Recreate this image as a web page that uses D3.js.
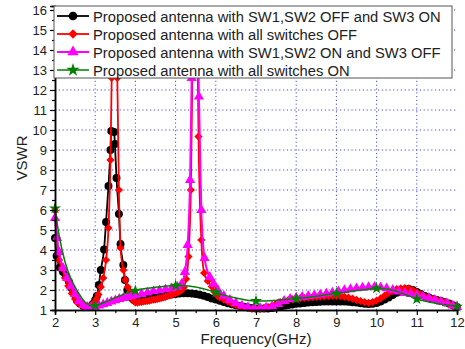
<!DOCTYPE html>
<html><head><meta charset="utf-8">
<script src="https://cdn.jsdelivr.net/npm/d3@7"></script>
<style>body{margin:0;background:#fff}svg{display:block}text{font-family:Arial,"Liberation Sans",sans-serif}</style>
</head><body><svg id="c" width="465" height="349"></svg>
<script>
const xTicks=[2,3,4,5,6,7,8,9,10,11,12];
const yTicks=[1,2,3,4,5,6,7,8,9,10,11,12,13,14,15,16];
const seriesNames=["Proposed antenna with SW1,SW2 OFF and SW3 ON","Proposed antenna with all switches OFF","Proposed antenna with SW1,SW2 ON and SW3 OFF","Proposed antenna with all switches ON"];
const blackF=[2.00,2.04,2.12,2.20,2.27,2.35,2.41,2.50,2.55,2.62,2.70,2.78,2.87,2.94,3.00,3.04,3.09,3.14,3.22,3.27,3.33,3.38,3.40,3.47,3.49,3.53,3.59,3.63,3.70,3.74,3.80,3.87,3.91,3.96,4.0,4.1,4.2,4.3,4.4,4.5,4.6,4.7,4.8,4.9,5.0,5.1,5.2,5.3,5.4,5.5,5.6,5.7,5.8,5.9,6.0,6.1,6.2,6.3,6.4,6.5,6.6,6.7,6.8,6.9,7.0,7.1,7.2,7.3,7.4,7.5,7.6,7.7,7.8,7.9,8.0,8.1,8.2,8.3,8.4,8.5,8.6,8.7,8.8,8.9,9.0,9.1,9.2,9.3,9.4,9.5,9.6,9.7,9.8,9.9,10.0,10.1,10.2,10.3,10.4,10.5,10.6,10.7,10.8,10.9,11.0,11.1,11.2,11.3,11.4,11.5,11.6,11.7,11.8,11.9,12.0];
const blackV=[4.6,3.7,3.13,2.9,2.7,2.4,2.1,1.75,1.46,1.33,1.2,1.15,1.17,1.3,1.5,1.7,2.25,3.0,4.03,5.4,7.2,9.0,9.95,9.9,9.3,7.6,5.8,4.3,3.25,2.5,2.0,1.8,1.6,1.5,1.48,1.5,1.53,1.56,1.6,1.63,1.67,1.7,1.74,1.77,1.8,1.82,1.84,1.84,1.83,1.8,1.76,1.71,1.65,1.58,1.52,1.46,1.4,1.34,1.29,1.24,1.2,1.16,1.13,1.1,1.08,1.07,1.07,1.08,1.1,1.13,1.17,1.21,1.25,1.28,1.31,1.33,1.35,1.37,1.39,1.4,1.41,1.42,1.43,1.43,1.43,1.43,1.42,1.41,1.39,1.37,1.34,1.31,1.3,1.31,1.35,1.42,1.52,1.63,1.75,1.86,1.95,2.02,2.05,2.0,1.9,1.8,1.7,1.62,1.55,1.5,1.45,1.39,1.32,1.24,1.15];
const redF=[2.00,2.05,2.10,2.17,2.25,2.33,2.42,2.50,2.55,2.62,2.68,2.75,2.81,2.87,2.93,2.98,3.03,3.08,3.14,3.20,3.27,3.33,3.38,3.41,3.45,3.50,3.55,3.59,3.63,3.70,3.75,3.81,3.87,3.92,3.96,4.00,4.05,4.1,4.15,4.2,4.25,4.3,4.35,4.4,4.45,4.5,4.55,4.6,4.65,4.7,4.75,4.8,4.85,4.9,4.95,5.0,5.05,5.1,5.15,5.2,5.26,5.32,5.38,5.45,5.50,5.54,5.57,5.64,5.71,5.8,5.9,5.97,6.05,6.1,6.2,6.3,6.4,6.5,6.6,6.7,6.8,6.9,7.0,7.1,7.2,7.3,7.4,7.5,7.6,7.7,7.8,7.9,8.0,8.1,8.2,8.3,8.4,8.5,8.6,8.7,8.8,8.9,9.0,9.1,9.2,9.3,9.4,9.5,9.6,9.7,9.8,9.9,10.0,10.1,10.2,10.3,10.4,10.5,10.6,10.7,10.8,10.9,11.0,11.1,11.2,11.3,11.4,11.5,11.6,11.7,11.8,11.9,12.0];
const redV=[5.97,4.6,3.5,3.1,2.6,2.2,1.83,1.55,1.4,1.3,1.2,1.17,1.17,1.2,1.28,1.38,1.55,1.78,2.15,2.6,3.5,5.1,8.5,12.6,20,22,12.6,7.0,4.1,3.0,2.5,2.15,1.9,1.6,1.45,1.38,1.37,1.4,1.4,1.43,1.44,1.46,1.47,1.5,1.52,1.53,1.56,1.58,1.6,1.63,1.66,1.7,1.73,1.77,1.8,1.84,1.88,1.93,2.0,2.12,2.55,3.67,7.0,18,22,15,9.67,4.5,2.85,2.45,2.17,1.9,1.7,1.63,1.52,1.42,1.33,1.25,1.18,1.13,1.09,1.06,1.05,1.06,1.09,1.15,1.22,1.32,1.4,1.46,1.5,1.54,1.57,1.59,1.6,1.62,1.64,1.65,1.67,1.68,1.69,1.7,1.7,1.69,1.66,1.62,1.57,1.51,1.45,1.39,1.36,1.39,1.47,1.58,1.72,1.85,1.96,2.04,2.08,2.1,2.08,2.0,1.88,1.77,1.67,1.6,1.55,1.5,1.44,1.38,1.31,1.23,1.15];
const magF=[2.00,2.05,2.10,2.2,2.3,2.4,2.5,2.6,2.7,2.8,2.9,3.0,3.1,3.2,3.3,3.4,3.5,3.6,3.7,3.8,3.9,4.0,4.15,4.3,4.45,4.6,4.75,4.9,5.05,5.15,5.23,5.30,5.36,5.40,5.46,5.52,5.58,5.64,5.72,5.85,5.95,6.05,6.2,6.35,6.5,6.65,6.8,6.95,7.1,7.25,7.4,7.55,7.7,7.85,8.0,8.15,8.3,8.45,8.6,8.75,8.9,9.05,9.2,9.35,9.5,9.65,9.8,9.95,10.1,10.25,10.4,10.55,10.7,10.85,11.0,11.15,11.3,11.45,11.6,11.75,11.9,12.0];
const magV=[5.6,4.6,3.9,3.1,2.6,2.2,1.8,1.45,1.25,1.15,1.14,1.17,1.22,1.28,1.35,1.42,1.48,1.55,1.6,1.65,1.7,1.73,1.8,1.87,1.93,1.98,2.03,2.08,2.15,2.3,2.9,4.25,7.5,12.6,22,20,11.67,6.0,3.6,2.65,2.3,2.0,1.7,1.5,1.35,1.22,1.14,1.1,1.1,1.12,1.18,1.3,1.45,1.55,1.62,1.66,1.7,1.73,1.77,1.82,1.87,1.93,1.99,2.04,2.08,2.12,2.14,2.15,2.13,2.08,2.0,1.92,1.85,1.8,1.74,1.67,1.6,1.5,1.42,1.33,1.22,1.15];
const greenF=[2.0,2.1,2.25,2.4,2.5,2.6,2.7,2.8,2.9,3.0,3.25,3.5,3.75,4.0,4.25,4.5,4.75,5.0,5.25,5.5,5.75,6.0,6.25,6.5,6.75,7.0,7.25,7.5,7.75,8.0,8.25,8.5,8.75,9.0,9.25,9.5,9.75,10.0,10.25,10.5,10.75,11.0,11.25,11.5,11.75,12.0];
const greenV=[6.08,4.75,3.4,2.55,2.15,1.8,1.5,1.3,1.2,1.22,1.4,1.62,1.82,1.97,2.07,2.14,2.19,2.22,2.21,2.15,2.03,1.88,1.72,1.6,1.5,1.45,1.45,1.48,1.52,1.56,1.62,1.69,1.76,1.83,1.9,1.97,2.03,2.08,2.05,1.93,1.75,1.55,1.42,1.33,1.25,1.17];
const colors=["#000000","#ff0000","#ff00ff","#008000"];

const svg=d3.select("#c");
const L=55,R=457,T=6,B=310;
const x=d3.scaleLinear().domain([2,12]).range([L,R]);
const y=d3.scaleLinear().domain([1,16.2]).range([B,T]);

// grid
const grid=svg.append("g");
grid.selectAll("line.h").data(yTicks.filter(v=>v>1)).join("line")
 .attr("x1",L).attr("x2",R).attr("y1",d=>y(d)).attr("y2",d=>y(d))
 .attr("stroke","#4a4ae6").attr("stroke-width",1).attr("stroke-dasharray","1.2,2.6");
grid.selectAll("line.v").data(xTicks.filter(v=>v>2&&v<12)).join("line")
 .attr("y1",B).attr("y2",T).attr("x1",d=>x(d)).attr("x2",d=>x(d))
 .attr("stroke","#4a4ae6").attr("stroke-width",1).attr("stroke-dasharray","1.2,2.6");

svg.append("clipPath").attr("id","clip").append("rect").attr("x",L-6).attr("y",T).attr("width",R-L+12).attr("height",B-T+6);
const plot=svg.append("g").attr("clip-path","url(#clip)");

function mk(F,V){return F.map((f,i)=>({f:f,v:V[i]}));}
const data=[mk(blackF,blackV),mk(redF,redV),mk(magF,magV),mk(greenF,greenV)];
const line=d3.line().x(d=>x(d.f)).y(d=>y(d.v)).curve(d3.curveMonotoneX);
const symbols=[d3.symbolCircle,d3.symbolSquare,d3.symbolTriangle,d3.symbolStar];
const sizes=[50,34,45,45];
const rot=[0,45,0,0];
const widths=[1.8,1.8,2,1.5];

data.forEach((ds,k)=>{
  plot.append("path").datum(ds).attr("d",line).attr("fill","none").attr("stroke",colors[k]).attr("stroke-width",widths[k]);
  const pts = k===3 ? ds.filter(d=>Number.isInteger(d.f)) : ds;
  plot.selectAll(null).data(pts).join("path")
   .attr("d",d3.symbol().type(symbols[k]).size(sizes[k]))
   .attr("transform",d=>`translate(${x(d.f)},${y(d.v)}) rotate(${rot[k]})`)
   .attr("fill",colors[k]);
});

// axes
svg.append("g").attr("transform",`translate(0,${B})`)
 .call(d3.axisBottom(x).tickValues(xTicks).tickSize(5).tickPadding(3).tickFormat(d3.format("d")));
const minorX=d3.range(2.5,12,1);
svg.append("g").attr("transform",`translate(0,${B})`).call(d3.axisBottom(x).tickValues(minorX).tickSize(3).tickFormat(""));
svg.append("g").attr("transform",`translate(${L},0)`)
 .call(d3.axisLeft(y).tickValues(yTicks).tickSize(5).tickPadding(3).tickFormat(d3.format("d")));
svg.append("g").attr("transform",`translate(${L},0)`).call(d3.axisLeft(y).tickValues(d3.range(1.5,16.2,1)).tickSize(3).tickFormat(""));
svg.selectAll(".domain").attr("stroke","#000").attr("stroke-width",1.5);
svg.selectAll(".tick line").attr("stroke","#000").attr("stroke-width",1.2);
svg.selectAll(".tick text").attr("font-size",13).attr("fill","#222").attr("font-family","Arial, 'Liberation Sans', sans-serif");

// axis titles
svg.append("text").attr("x",256).attr("y",344).attr("text-anchor","middle").attr("font-size",15).attr("fill","#222").text("Frequency(GHz)");
svg.append("text").attr("transform","translate(27,158) rotate(-90)").attr("text-anchor","middle").attr("font-size",15).attr("fill","#222").text("VSWR");

// legend
const lg=svg.append("g");
lg.append("rect").attr("x",54).attr("y",6).attr("width",398).attr("height",72).attr("fill","#fff").attr("stroke","#555").attr("stroke-width",1);
seriesNames.forEach((n,k)=>{
  const yy=16+18*k;
  lg.append("line").attr("x1",57).attr("x2",89).attr("y1",yy).attr("y2",yy).attr("stroke",colors[k]).attr("stroke-width",widths[k]);
  lg.append("path").attr("d",d3.symbol().type(symbols[k]).size(sizes[k]+10)()).attr("transform",`translate(73,${yy}) rotate(${rot[k]})`).attr("fill",colors[k]);
  lg.append("text").attr("x",93).attr("y",yy+5.5).attr("font-size",14.75).attr("fill","#222").text(n);
});
</script></body></html>
